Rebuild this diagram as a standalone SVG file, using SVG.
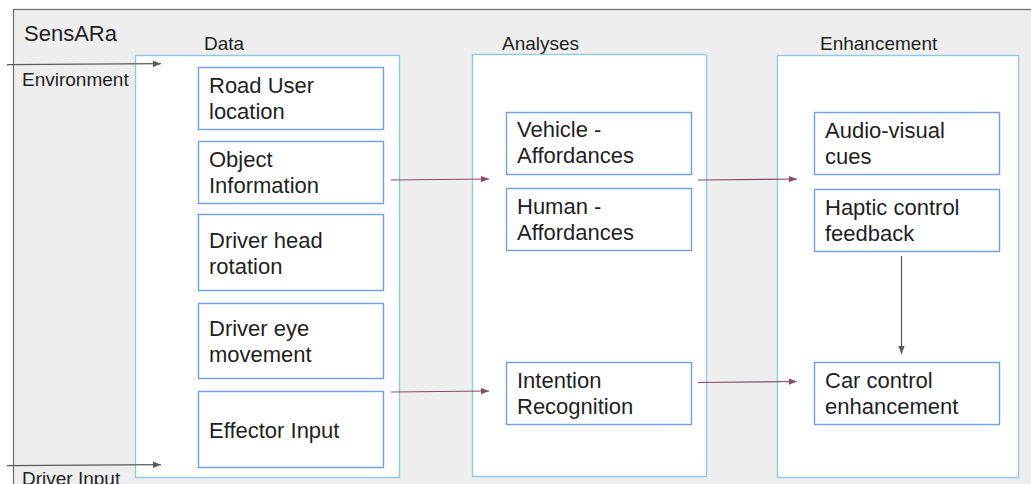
<svg xmlns="http://www.w3.org/2000/svg" width="1031" height="484" viewBox="0 0 1031 484">
  <defs>
    <style>
      .frame { fill: #eeeeee; stroke: #6b6b6b; stroke-width: 1.2; }
      .stage { fill: #ffffff; stroke: #8ecae6; stroke-width: 1.4; }
      .box { fill: #ffffff; stroke: #6d9eeb; stroke-width: 1.4; }
      .t { font-family: "Liberation Sans", Arial, sans-serif; font-size: 22px; fill: #1f1f1f; }
      .lbl { font-family: "Liberation Sans", Arial, sans-serif; font-size: 19px; fill: #1f1f1f; }
      .flow { stroke: #8b4a66; stroke-width: 1.2; fill: none; marker-end: url(#headRed); }
      .input { stroke: #5a5a5a; stroke-width: 1.2; fill: none; marker-end: url(#headGrey); }
    </style>
    <marker id="headRed" viewBox="0 0 10 10" refX="10" refY="5" markerWidth="8" markerHeight="8" markerUnits="userSpaceOnUse" orient="auto">
      <path d="M0,1 L10,5 L0,9 Z" fill="#8b4a66"/>
    </marker>
    <marker id="headGrey" viewBox="0 0 10 10" refX="10" refY="5" markerWidth="8" markerHeight="8" markerUnits="userSpaceOnUse" orient="auto">
      <path d="M0,1 L10,5 L0,9 Z" fill="#5a5a5a"/>
    </marker>
  </defs>

  <rect x="0" y="0" width="1031" height="484" fill="#ffffff"/>

  <!-- system frame -->
  <g id="sensara">
    <rect class="frame" x="13.5" y="9.5" width="1030" height="490"/>
    <text class="t" x="24" y="41">SensARa</text>
    <text class="lbl" x="22" y="85.5">Environment</text>
    <text class="lbl" x="22" y="484.5">Driver Input</text>
  </g>

  <!-- stage containers -->
  <g id="data">
    <rect class="stage" x="135.5" y="55.5" width="264" height="422"/>
    <text class="lbl" x="204" y="50">Data</text>
  </g>
  <g id="analyses">
    <rect class="stage" x="472.5" y="54.5" width="234" height="422"/>
    <text class="lbl" x="502" y="49.5">Analyses</text>
  </g>
  <g id="enhancement">
    <rect class="stage" x="777.5" y="55.5" width="241" height="422"/>
    <text class="lbl" x="820" y="50">Enhancement</text>
  </g>

  <!-- data sources -->
  <g id="road-user-location">
    <rect class="box" x="198.5" y="67.5" width="185" height="62"/>
    <text class="t" x="209" y="93">Road User</text>
    <text class="t" x="209" y="119">location</text>
  </g>
  <g id="object-information">
    <rect class="box" x="198.5" y="141.5" width="185" height="62"/>
    <text class="t" x="209" y="166.5">Object</text>
    <text class="t" x="209" y="192.5">Information</text>
  </g>
  <g id="driver-head-rotation">
    <rect class="box" x="198.5" y="214.5" width="185" height="76"/>
    <text class="t" x="209" y="248">Driver head</text>
    <text class="t" x="209" y="273.5">rotation</text>
  </g>
  <g id="driver-eye-movement">
    <rect class="box" x="198.5" y="303.5" width="185" height="75"/>
    <text class="t" x="209" y="336">Driver eye</text>
    <text class="t" x="209" y="361.5">movement</text>
  </g>
  <g id="effector-input">
    <rect class="box" x="198.5" y="391.5" width="185" height="76"/>
    <text class="t" x="209" y="438">Effector Input</text>
  </g>

  <!-- analyses -->
  <g id="vehicle-affordances">
    <rect class="box" x="506.5" y="112.5" width="185" height="62"/>
    <text class="t" x="517" y="137">Vehicle -</text>
    <text class="t" x="517" y="163">Affordances</text>
  </g>
  <g id="human-affordances">
    <rect class="box" x="506.5" y="188.5" width="185" height="62"/>
    <text class="t" x="517" y="213.5">Human -</text>
    <text class="t" x="517" y="239.5">Affordances</text>
  </g>
  <g id="intention-recognition">
    <rect class="box" x="506.5" y="362.5" width="185" height="62"/>
    <text class="t" x="517" y="388">Intention</text>
    <text class="t" x="517" y="414">Recognition</text>
  </g>

  <!-- enhancements -->
  <g id="audio-visual-cues">
    <rect class="box" x="814.5" y="112.5" width="185" height="62"/>
    <text class="t" x="825" y="137.5">Audio-visual</text>
    <text class="t" x="825" y="163.5">cues</text>
  </g>
  <g id="haptic-control-feedback">
    <rect class="box" x="814.5" y="189.5" width="185" height="62"/>
    <text class="t" x="825" y="214.5">Haptic control</text>
    <text class="t" x="825" y="240.5">feedback</text>
  </g>
  <g id="car-control-enhancement">
    <rect class="box" x="814.5" y="362.5" width="185" height="62"/>
    <text class="t" x="825" y="388">Car control</text>
    <text class="t" x="825" y="414">enhancement</text>
  </g>

  <!-- connectors -->
  <g id="connectors">
    <line class="input" x1="7" y1="64.7" x2="161" y2="63.7"/>
    <line class="input" x1="7" y1="465.7" x2="161" y2="464.7"/>
    <line class="flow" x1="391" y1="180" x2="489" y2="179"/>
    <line class="flow" x1="698" y1="180" x2="797" y2="179"/>
    <line class="flow" x1="391" y1="392" x2="489" y2="391"/>
    <line class="flow" x1="698" y1="382.5" x2="797" y2="381.5"/>
    <line class="input" x1="901.5" y1="256" x2="901.5" y2="354"/>
  </g>
</svg>
